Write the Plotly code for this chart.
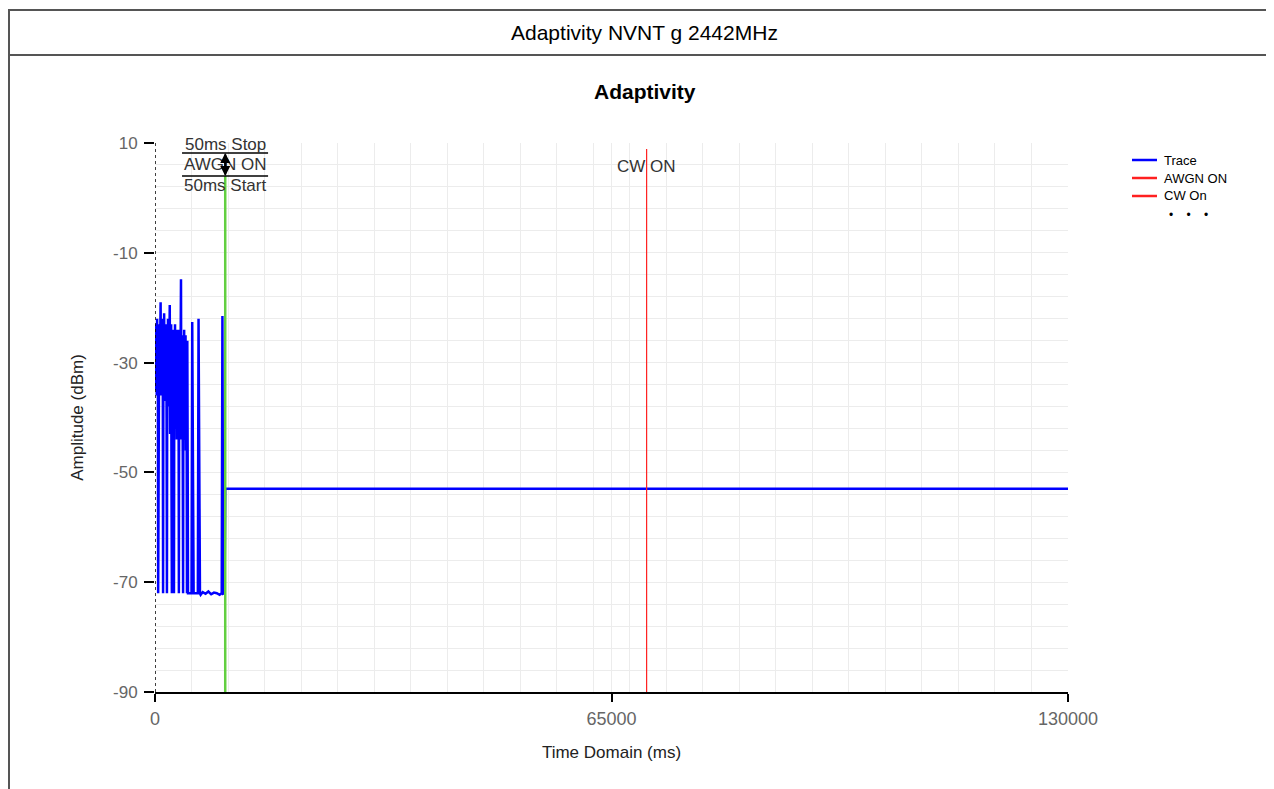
import plotly.graph_objects as go

# ---------------- data ----------------
# dense burst section (sampled every 50 ms, 0 .. 4750 ms)
burst_t = [i * 50 for i in range(96)]
burst_a = [-24, -35, -23, -34, -26, -36, -22, -33, -25, -72,
           -24, -35, -23, -36, -25, -34, -19, -36, -24, -35,
           -26, -33, -22, -72, -25, -36, -21, -34, -24, -37,
           -26, -35, -23, -40, -72, -25, -36, -22, -38, -27,
           -35, -24, -19.5, -43, -26, -36, -23, -52, -72, -25,
           -37, -24, -44, -28, -72, -26, -38, -23, -42, -27,
           -36, -25, -44, -24, -38, -27, -45, -25, -72, -24,
           -40, -26, -37, -23, -14.8, -44, -27, -38, -25, -46,
           -72, -26, -39, -24, -44, -27, -37, -25, -46, -26,
           -38, -72, -26, -47, -72, -72]
# sparse bursts (every 100 ms, 4800 .. 6400 ms)
sparse_t = [4800, 4900, 5000, 5100, 5200, 5300, 5400, 5500, 5600, 5700,
            5800, 5900, 6000, 6100, 6200, 6300, 6400]
sparse_a = [-72, -72, -72, -72, -72, -22.6, -72, -72, -72, -72,
            -72, -72, -72, -72, -22, -72, -72]
# idle noise floor and last spike before AWGN start
idle_t = [6500, 6800, 7200, 7600, 8000, 8400, 8800, 9200, 9500, 9600, 9700, 9900]
idle_a = [-72.3, -71.8, -72.1, -71.7, -72.2, -71.9, -72.0, -72.3, -72.0, -21.5, -72.1, -72.0]
# after AWGN ON: flat level
flat_t = [10000, 20000, 30000, 40000, 50000, 60000, 70000, 80000, 90000, 100000, 110000, 120000, 130000]
flat_a = [-53.0, -53.0, -53.1, -53.0, -53.0, -53.0, -53.1, -53.0, -53.0, -53.0, -53.1, -53.0, -53.0]

trace_t = burst_t + sparse_t + idle_t + flat_t
trace_a = burst_a + sparse_a + idle_a + flat_a

AWGN_ON_MS = 10000
CW_ON_MS = 70000
Y_MIN, Y_MAX = -90, 10
X_MIN, X_MAX = 0, 130000
y_ticks = [10, -10, -30, -50, -70, -90]
x_ticks = [0, 65000, 130000]
legend_names = ["Trace", "AWGN ON", "CW On"]
legend_colors = ["#0000ff", "#ff2020", "#ff2020"]

# geometry: page has an 8px body margin
OFF = 8
W, H = 1274, 789
PL, PR, PT, PB = 155, 1068, 143, 692          # plot area in page pixels
L, T = PL - OFF, PT - OFF
R = W - (PR - OFF)
B = H - (PB - OFF)
PW, PH = PR - PL, PB - PT


def px_x(p):
    return (p - PL) / PW


def px_y(p):
    return (PB - p) / PH


fig = go.Figure()

fig.add_trace(go.Scatter(x=trace_t, y=trace_a, mode="lines", name="Trace",
                         line=dict(color="#0000ff", width=2.5)))
fig.add_trace(go.Scatter(x=[AWGN_ON_MS, AWGN_ON_MS], y=[Y_MIN, 4], mode="lines",
                         name="AWGN ON",
                         line=dict(color="#62cf40", width=2.5)))
fig.add_trace(go.Scatter(x=[CW_ON_MS, CW_ON_MS], y=[Y_MIN, 8.9], mode="lines",
                         name="CW On",
                         line=dict(color="#ff2020", width=1.2)))

font = "Liberation Sans, Arial, sans-serif"
shapes = []
# outer frame and header separator
shapes.append(dict(type="rect", xref="paper", yref="paper",
                   x0=px_x(9), x1=px_x(1300), y0=px_y(10), y1=px_y(830),
                   line=dict(color="#555555", width=2)))
shapes.append(dict(type="line", xref="paper", yref="paper",
                   x0=px_x(9), x1=px_x(1300), y0=px_y(55), y1=px_y(55),
                   line=dict(color="#555555", width=2)))
# dotted y axis line
shapes.append(dict(type="line", xref="x", yref="y", x0=0, x1=0, y0=Y_MIN, y1=Y_MAX,
                   line=dict(color="#000000", width=1.5, dash="dot")))
# annotation underlines
shapes.append(dict(type="line", xref="x", yref="y", x0=3850, x1=16100, y0=8.2, y1=8.2,
                   line=dict(color="#000000", width=1.5)))
shapes.append(dict(type="line", xref="x", yref="y", x0=3850, x1=16100, y0=4.0, y1=4.0,
                   line=dict(color="#000000", width=1.5)))

annotations = [
    dict(text="Adaptivity NVNT g 2442MHz", xref="paper", yref="paper",
         x=px_x(644), y=px_y(33), xanchor="center", yanchor="middle", showarrow=False,
         font=dict(family=font, size=21, color="#000000")),
    dict(text="<b>Adaptivity</b>", xref="paper", yref="paper",
         x=px_x(645), y=px_y(92), xanchor="center", yanchor="middle", showarrow=False,
         font=dict(family=font, size=21, color="#000000")),
    dict(text="50ms Stop", xref="x", yref="y", x=AWGN_ON_MS, y=9.75, showarrow=False,
         font=dict(family=font, size=17, color="#333333")),
    dict(text="AWGN ON", xref="x", yref="y", x=AWGN_ON_MS, y=6.0, showarrow=False,
         font=dict(family=font, size=17, color="#333333")),
    dict(text="50ms Start", xref="x", yref="y", x=AWGN_ON_MS, y=2.2, showarrow=False,
         font=dict(family=font, size=17, color="#333333")),
    dict(text="CW ON", xref="x", yref="y", x=CW_ON_MS, y=5.8, showarrow=False,
         font=dict(family=font, size=17, color="#333333")),
    # double arrow
    dict(x=AWGN_ON_MS, y=8.2, ax=AWGN_ON_MS, ay=4.0, xref="x", yref="y",
         axref="x", ayref="y", text="", showarrow=True, arrowhead=2,
         arrowsize=1, arrowwidth=2, arrowcolor="#000000"),
    dict(x=AWGN_ON_MS, y=4.0, ax=AWGN_ON_MS, ay=8.2, xref="x", yref="y",
         axref="x", ayref="y", text="", showarrow=True, arrowhead=2,
         arrowsize=1, arrowwidth=2, arrowcolor="#000000"),
    dict(text="\u2022    \u2022    \u2022", xref="paper", yref="paper",
         x=px_x(1188), y=px_y(215), xanchor="center", yanchor="middle", showarrow=False,
         font=dict(family=font, size=12, color="#000000")),
]

# legend drawn as keys + labels
legend_rows = [160, 178, 196]
for name, col, ry in zip(legend_names, legend_colors, legend_rows):
    shapes.append(dict(type="line", xref="paper", yref="paper",
                       x0=px_x(1132), x1=px_x(1157), y0=px_y(ry), y1=px_y(ry),
                       line=dict(color=col, width=2.5)))
    annotations.append(dict(text=name, xref="paper", yref="paper",
                            x=px_x(1162), y=px_y(ry), xanchor="left", yanchor="middle",
                            showarrow=False,
                            font=dict(family=font, size=13, color="#000000")))

fig.update_layout(
    width=W, height=H,
    margin=dict(l=L, r=R, t=T, b=B),
    paper_bgcolor="white", plot_bgcolor="white",
    showlegend=False,
    shapes=shapes, annotations=annotations,
    font=dict(family=font),
)

fig.update_xaxes(range=[X_MIN, X_MAX], tickvals=x_ticks,
                 ticktext=[str(v) for v in x_ticks],
                 ticks="outside", ticklen=8, tickwidth=1.5, tickcolor="#000000",
                 ticklabelstandoff=2,
                 showline=True, linecolor="#000000", linewidth=1.5,
                 showgrid=True, gridcolor="#ececec", gridwidth=1, zeroline=False,
                 minor=dict(tick0=0, dtick=5200, showgrid=True, gridcolor="#ececec",
                            ticks=""),
                 tickfont=dict(family=font, size=18, color="#666666"),
                 title=dict(text="Time Domain (ms)", standoff=18,
                            font=dict(family=font, size=17, color="#222222")))
fig.update_yaxes(range=[Y_MIN, Y_MAX], tickvals=y_ticks,
                 ticktext=[str(v) for v in y_ticks],
                 ticks="outside", ticklen=10, tickwidth=2, tickcolor="#000000",
                 ticklabelstandoff=3,
                 showline=False, showgrid=True, gridcolor="#ececec", zeroline=False,
                 minor=dict(tick0=-90, dtick=4, showgrid=True, gridcolor="#ececec",
                            ticks=""),
                 tickfont=dict(family=font, size=17, color="#666666"),
                 title=dict(text="Amplitude (dBm)", standoff=25,
                            font=dict(family=font, size=17, color="#222222")))

fig.write_html("out.html")
